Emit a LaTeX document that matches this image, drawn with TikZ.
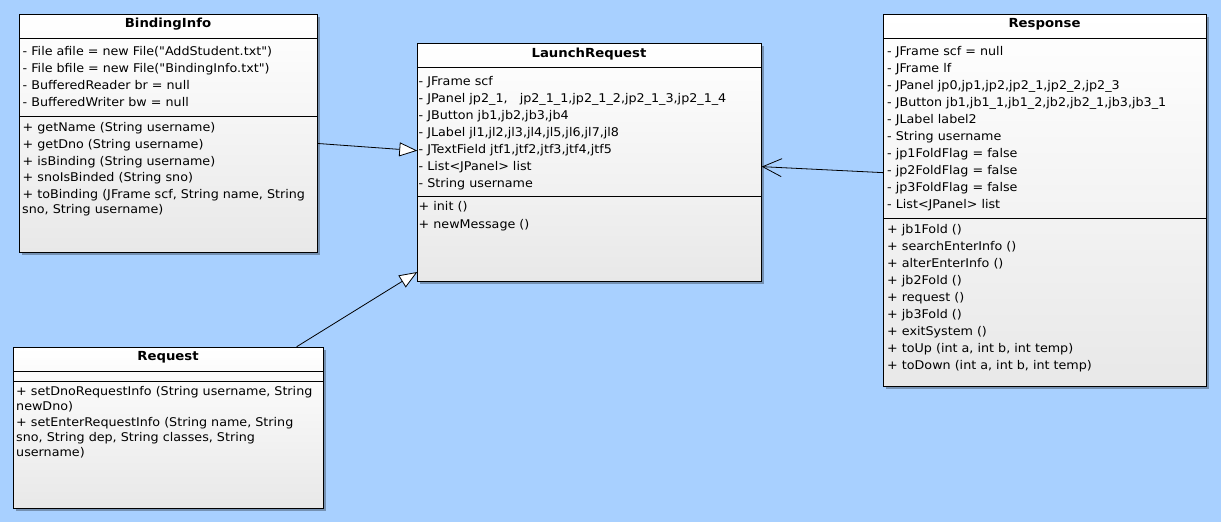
\documentclass[tikz,border=0pt]{standalone}
\usepackage{fontspec}
\setmainfont{DejaVu Sans}[Ligatures=TeXOff, FakeStretch=1.06]
\usetikzlibrary{arrows.meta, shadows}
\definecolor{bgblue}{RGB}{168,208,255}

\begin{document}
\begin{tikzpicture}[x=1pt, y=-1pt,
    classbox/.style={draw, line width=1pt, anchor=north west, inner sep=0pt,
      top color=white, bottom color=black!9,
      drop shadow={shadow xshift=2.5pt, shadow yshift=-2.5pt, fill=black, opacity=.3}},
    classname/.style={anchor=base, inner sep=0pt, font=\bfseries\fontsize{12.5}{14}\selectfont},
    member/.style={anchor=base west, inner sep=0pt, font=\fontsize{12}{14}\selectfont},
    compart/.style={line width=1pt},
    inherit/.style={line width=.8pt, -{Triangle[length=18pt, width=14pt, fill=white]}},
    uses/.style={line width=.8pt, -{Straight Barb[length=19pt, width=18pt]}}]

  \fill[bgblue] (0,0) rectangle (1221,522);
  \useasboundingbox (0,0) rectangle (1221,522);

  % BindingInfo
  \node[classbox, minimum width=298, minimum height=238] (binding) at (19,14) {};
  \node[classname] (binding-name) at (168,27.8) {BindingInfo};
  \draw[compart] ([yshift=-24.3pt]binding.north west) -- ([yshift=-24.3pt]binding.north east);
  \draw[compart] ([yshift=-102.7pt]binding.north west) -- ([yshift=-102.7pt]binding.north east);
  \foreach \txt [count=\i] in {{- File afile = new File("AddStudent.txt")},
                               {- File bfile = new File("BindingInfo.txt")},
                               {- BufferedReader br = null},
                               {- BufferedWriter bw = null}}
    \node[member] (binding-attr-\i) at (22.5,{38.5+17*\i}) {\txt};
  \foreach \txt [count=\i] in {{+ getName (String username)},
                               {+ getDno (String username)},
                               {+ isBinding (String username)},
                               {+ snoIsBinded (String sno)},
                               {+ toBinding (JFrame scf, String name, String}}
    \node[member] (binding-op-\i) at (22.5,{115+16.7*\i}) {\txt};
  \node[member] (binding-op-wrap) at (22,213.3) {sno, String username)};

  % Request
  \node[classbox, minimum width=309.4, minimum height=161] (request) at (13.3,346.7) {};
  \node[classname] (request-name) at (168,360.5) {Request};
  \draw[compart] ([yshift=-25pt]request.north west) -- ([yshift=-25pt]request.north east);
  \draw[compart] ([yshift=-35pt]request.north west) -- ([yshift=-35pt]request.north east);
  \node[member] (request-op-1) at (16,395.7) {+ setDnoRequestInfo (String username, String};
  \node[member] (request-op-1b) at (16,410.7) {newDno)};
  \node[member] (request-op-2) at (16,426.7) {+ setEnterRequestInfo (String name, String};
  \node[member] (request-op-2b) at (16,441.7) {sno, String dep, String classes, String};
  \node[member] (request-op-2c) at (16,456.7) {username)};

  % LaunchRequest
  \node[classbox, minimum width=343.4, minimum height=237.7] (launch) at (417.3,43.3) {};
  \node[classname] (launch-name) at (589,57.2) {LaunchRequest};
  \draw[compart] ([yshift=-24.4pt]launch.north west) -- ([yshift=-24.4pt]launch.north east);
  \draw[compart] ([yshift=-152.7pt]launch.north west) -- ([yshift=-152.7pt]launch.north east);
  \foreach \txt [count=\i] in {{- JFrame scf},
                               {- JPanel jp2\_1,\ \ \ jp2\_1\_1,jp2\_1\_2,jp2\_1\_3,jp2\_1\_4},
                               {- JButton jb1,jb2,jb3,jb4},
                               {- JLabel jl1,jl2,jl3,jl4,jl5,jl6,jl7,jl8},
                               {- JTextField jtf1,jtf2,jtf3,jtf4,jtf5},
                               {- List<JPanel> list},
                               {- String username}}
    \node[member] (launch-attr-\i) at (418.5,{68+17*\i}) {\txt};
  \foreach \txt [count=\i] in {{+ init ()}, {+ newMessage ()}}
    \node[member] (launch-op-\i) at (418.5,{193+17.5*\i}) {\txt};

  % Response
  \node[classbox, minimum width=322.4, minimum height=371.7] (response) at (883.3,14.3) {};
  \node[classname] (response-name) at (1044.5,27.8) {Response};
  \draw[compart] ([yshift=-24pt]response.north west) -- ([yshift=-24pt]response.north east);
  \draw[compart] ([yshift=-204pt]response.north west) -- ([yshift=-204pt]response.north east);
  \foreach \txt [count=\i] in {{- JFrame scf = null},
                               {- JFrame lf},
                               {- JPanel jp0,jp1,jp2,jp2\_1,jp2\_2,jp2\_3},
                               {- JButton jb1,jb1\_1,jb1\_2,jb2,jb2\_1,jb3,jb3\_1},
                               {- JLabel label2},
                               {- String username},
                               {- jp1FoldFlag = false},
                               {- jp2FoldFlag = false},
                               {- jp3FoldFlag = false},
                               {- List<JPanel> list}}
    \node[member] (response-attr-\i) at (887,{38.7+17*\i}) {\txt};
  \foreach \txt [count=\i] in {{+ jb1Fold ()},
                               {+ searchEnterInfo ()},
                               {+ alterEnterInfo ()},
                               {+ jb2Fold ()},
                               {+ request ()},
                               {+ jb3Fold ()},
                               {+ exitSystem ()},
                               {+ toUp (int a, int b, int temp)},
                               {+ toDown (int a, int b, int temp)}}
    \node[member] (response-op-\i) at (887,{216.3+17*\i}) {\txt};

  % relations
  \draw[inherit] ([yshift=-10pt]binding.east) -- ([yshift=12pt]launch.west);
  \draw[inherit] ([xshift=-27pt]request.north east) -- ([yshift=10pt]launch.south west);
  \draw[uses] ([yshift=28pt]response.west) -- ([yshift=-4pt]launch.east);
\end{tikzpicture}
\end{document}
